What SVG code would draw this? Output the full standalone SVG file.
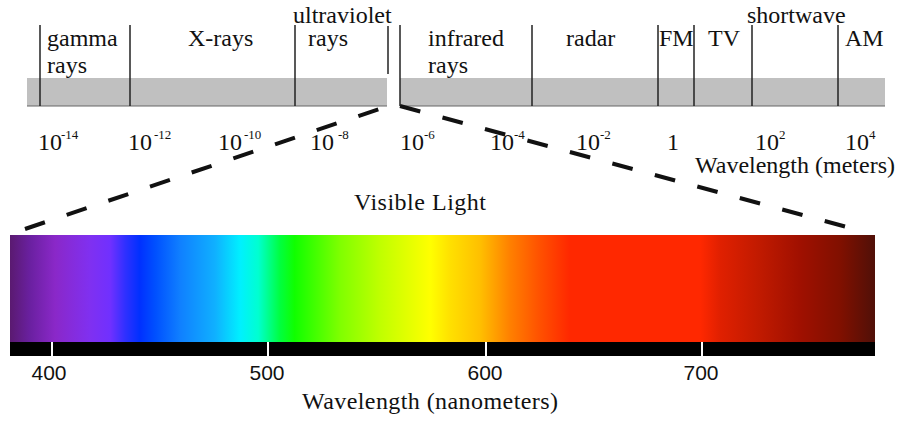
<svg xmlns="http://www.w3.org/2000/svg" width="900" height="436" viewBox="0 0 900 436">
<defs>
<style>
.t{font-family:"Liberation Serif","Times New Roman",serif;font-size:24px;fill:#111}
.s{font-family:"Liberation Serif","Times New Roman",serif;font-size:13px;fill:#111}
.n{font-family:"Liberation Sans",Arial,sans-serif;font-size:21px;fill:#111;text-anchor:middle}
.v{stroke:#222;stroke-width:1.5}
.band{fill:#c0c0c0}
.dash{stroke:#111;stroke-width:4;stroke-dasharray:21 23;fill:none}
.tick{stroke:#fff;stroke-width:2}
</style>
<linearGradient id="spec" x1="10" y1="0" x2="875" y2="0" gradientUnits="userSpaceOnUse">
<stop offset="0" stop-color="#5a1a70"/>
<stop offset="0.023" stop-color="#6a20a0"/>
<stop offset="0.052" stop-color="#8a28c8"/>
<stop offset="0.092" stop-color="#8030f0"/>
<stop offset="0.116" stop-color="#7030ff"/>
<stop offset="0.133" stop-color="#3030ff"/>
<stop offset="0.150" stop-color="#0030ff"/>
<stop offset="0.168" stop-color="#0050ff"/>
<stop offset="0.197" stop-color="#1080ff"/>
<stop offset="0.237" stop-color="#10b0ff"/>
<stop offset="0.266" stop-color="#00f0ff"/>
<stop offset="0.287" stop-color="#00ffd0"/>
<stop offset="0.312" stop-color="#00ff40"/>
<stop offset="0.329" stop-color="#10ff00"/>
<stop offset="0.382" stop-color="#80ff00"/>
<stop offset="0.428" stop-color="#c0ff00"/>
<stop offset="0.486" stop-color="#ffff00"/>
<stop offset="0.509" stop-color="#ffe000"/>
<stop offset="0.543" stop-color="#ffc000"/>
<stop offset="0.578" stop-color="#ff8000"/>
<stop offset="0.613" stop-color="#ff5000"/>
<stop offset="0.647" stop-color="#ff2800"/>
<stop offset="0.798" stop-color="#ff2800"/>
<stop offset="0.821" stop-color="#e02000"/>
<stop offset="0.867" stop-color="#c01a00"/>
<stop offset="0.913" stop-color="#a01000"/>
<stop offset="0.960" stop-color="#801000"/>
<stop offset="1" stop-color="#501008"/>
</linearGradient>
</defs>
<rect width="900" height="436" fill="#fff"/>

<g id="em-spectrum">
<rect class="band" x="27" y="78" width="360" height="28"/>
<rect class="band" x="400" y="78" width="485" height="28"/>
<line x1="27" y1="106" x2="387" y2="106" stroke="#666" stroke-width="1"/>
<line x1="400" y1="106" x2="885" y2="106" stroke="#666" stroke-width="1"/>
<line class="v" x1="40" y1="25" x2="40" y2="106"/>
<line class="v" x1="130" y1="25" x2="130" y2="106"/>
<line class="v" x1="295" y1="25" x2="295" y2="106"/>
<line class="v" x1="388" y1="26" x2="388" y2="74"/>
<line class="v" x1="400" y1="25" x2="400" y2="106"/>
<line class="v" x1="532" y1="25" x2="532" y2="106"/>
<line class="v" x1="658" y1="25" x2="658" y2="106"/>
<line class="v" x1="694" y1="25" x2="694" y2="106"/>
<line class="v" x1="752" y1="25" x2="752" y2="106"/>
<line class="v" x1="838" y1="25" x2="838" y2="106"/>
</g>

<g id="band-labels">
<text class="t" x="47" y="46">gamma</text>
<text class="t" x="47" y="73">rays</text>
<text class="t" x="188" y="46">X-rays</text>
<text class="t" x="293" y="23">ultraviolet</text>
<text class="t" x="308" y="46">rays</text>
<text class="t" x="428" y="46">infrared</text>
<text class="t" x="428" y="73">rays</text>
<text class="t" x="566" y="46">radar</text>
<text class="t" x="659" y="46">FM</text>
<text class="t" x="708" y="46">TV</text>
<text class="t" x="747" y="23">shortwave</text>
<text class="t" x="845" y="46">AM</text>
</g>

<g id="meter-scale">
<text class="t" x="38" y="150">10</text><text class="s" x="61" y="139">-14</text>
<text class="t" x="128" y="150">10</text><text class="s" x="154" y="139">-12</text>
<text class="t" x="218" y="150">10</text><text class="s" x="244" y="139">-10</text>
<text class="t" x="310" y="150">10</text><text class="s" x="338" y="139">-8</text>
<text class="t" x="400" y="150">10</text><text class="s" x="424" y="139">-6</text>
<text class="t" x="490" y="150">10</text><text class="s" x="514" y="139">-4</text>
<text class="t" x="576" y="150">10</text><text class="s" x="600" y="139">-2</text>
<text class="t" x="667" y="150">1</text>
<text class="t" x="755" y="150">10</text><text class="s" x="779" y="139">2</text>
<text class="t" x="845" y="150">10</text><text class="s" x="869" y="139">4</text>
<text class="t" x="695" y="173">Wavelength (meters)</text>
</g>

<g id="connectors">
<line class="dash" x1="25" y1="229" x2="388" y2="106"/>
<line class="dash" x1="400" y1="106" x2="858" y2="230"/>
</g>

<g id="visible-light">
<text class="t" x="354" y="210" textLength="132">Visible Light</text>
<rect x="10" y="235" width="865" height="107" fill="url(#spec)"/>
<rect x="10" y="342" width="865" height="14" fill="#000"/>
<line class="tick" x1="52" y1="342" x2="52" y2="356"/>
<line class="tick" x1="268" y1="342" x2="268" y2="356"/>
<line class="tick" x1="486" y1="342" x2="486" y2="356"/>
<line class="tick" x1="702" y1="342" x2="702" y2="356"/>
<text class="n" x="49" y="380">400</text>
<text class="n" x="267" y="380">500</text>
<text class="n" x="485" y="380">600</text>
<text class="n" x="701" y="380">700</text>
<text class="t" x="302" y="409" textLength="256">Wavelength (nanometers)</text>
</g>
</svg>
